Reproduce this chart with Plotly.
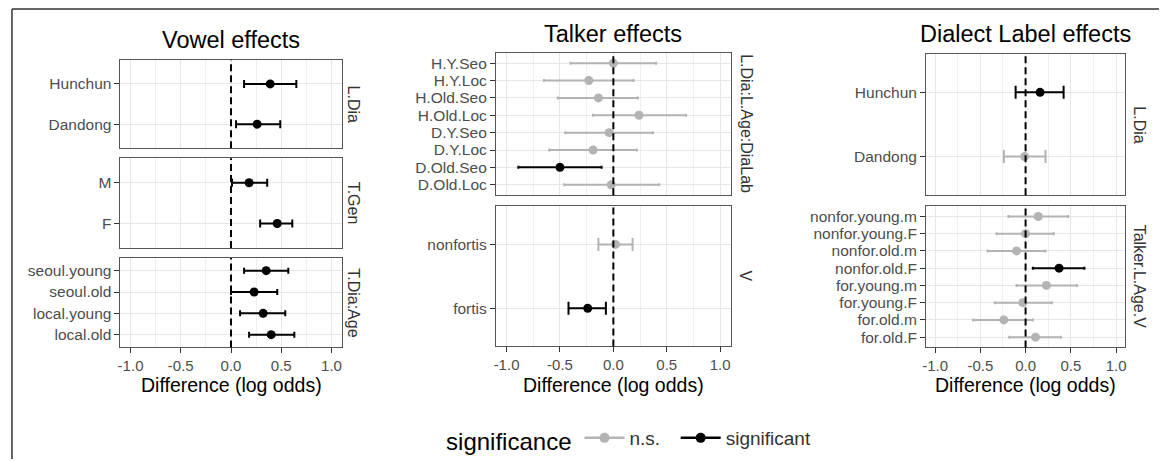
import plotly.graph_objects as go

# ---------------- data ----------------
# Vowel effects (terms listed top -> bottom within each facet)
vowel_facets = ["L.Dia", "T.Gen", "T.Dia:Age"]
vowel_terms = [["Hunchun", "Dandong"], ["M", "F"],
               ["seoul.young", "seoul.old", "local.young", "local.old"]]
vowel_est = [[0.39, 0.26], [0.18, 0.46], [0.35, 0.23, 0.32, 0.40]]
vowel_lo = [[0.13, 0.05], [0.01, 0.29], [0.13, 0.00, 0.09, 0.18]]
vowel_hi = [[0.65, 0.49], [0.36, 0.61], [0.57, 0.46, 0.54, 0.63]]
vowel_sig = [[1, 1], [1, 1], [1, 1, 1, 1]]

# Talker effects
talker_facets = ["L.Dia:L.Age:DiaLab", "V"]
talker_terms = [["H.Y.Seo", "H.Y.Loc", "H.Old.Seo", "H.Old.Loc",
                 "D.Y.Seo", "D.Y.Loc", "D.Old.Seo", "D.Old.Loc"],
                ["nonfortis", "fortis"]]
talker_est = [[0.00, -0.23, -0.14, 0.24, -0.04, -0.19, -0.50, -0.02],
              [0.02, -0.24]]
talker_lo = [[-0.40, -0.65, -0.52, -0.19, -0.45, -0.60, -0.89, -0.46],
             [-0.14, -0.42]]
talker_hi = [[0.40, 0.19, 0.23, 0.68, 0.37, 0.22, -0.11, 0.43],
             [0.18, -0.07]]
talker_sig = [[0, 0, 0, 0, 0, 0, 1, 0], [0, 1]]

# Dialect Label effects
dialect_facets = ["L.Dia", "Talker.L.Age.V"]
dialect_terms = [["Hunchun", "Dandong"],
                 ["nonfor.young.m", "nonfor.young.F", "nonfor.old.m", "nonfor.old.F",
                  "for.young.m", "for.young.F", "for.old.m", "for.old.F"]]
dialect_est = [[0.16, -0.01],
               [0.14, 0.00, -0.10, 0.37, 0.23, -0.03, -0.24, 0.11]]
dialect_lo = [[-0.11, -0.24],
              [-0.19, -0.32, -0.42, 0.08, -0.10, -0.34, -0.58, -0.18]]
dialect_hi = [[0.42, 0.22],
              [0.47, 0.31, 0.22, 0.65, 0.57, 0.29, 0.08, 0.39]]
dialect_sig = [[1, 0], [0, 0, 0, 1, 0, 0, 0, 0]]

chart_titles = ["Vowel effects", "Talker effects", "Dialect Label effects"]
x_title = "Difference (log odds)"
x_tick_vals = [-1.0, -0.5, 0.0, 0.5, 1.0]
x_tick_text = ["-1.0", "-0.5", "0.0", "0.5", "1.0"]
x_minor_vals = [-0.75, -0.25, 0.25, 0.75]
sig_labels = ["n.s.", "significant"]
legend_title = "significance"

# ---------------- layout (pixels) ----------------
W, H = 1160, 461
GRAY = "#b3b3b3"
BLACK = "#000000"
sig_colors = [GRAY, BLACK]
FONT = "Liberation Sans, Arial, Helvetica, sans-serif"

charts = [
    dict(facets=vowel_facets, terms=vowel_terms, est=vowel_est, lo=vowel_lo, hi=vowel_hi,
         sig=vowel_sig, x=(117, 339), ys=[(60, 149), (159, 249), (259, 349)],
         strip_x=351, caps=[4, 4, 3], title_y=40),
    dict(facets=talker_facets, terms=talker_terms, est=talker_est, lo=talker_lo, hi=talker_hi,
         sig=talker_sig, x=(494, 730), ys=[(53, 196), (207, 348)],
         strip_x=745, caps=[1.5, 6.5], title_y=34),
    dict(facets=dialect_facets, terms=dialect_terms, est=dialect_est, lo=dialect_lo, hi=dialect_hi,
         sig=dialect_sig, x=(926, 1126), ys=[(54, 196), (207, 349)],
         strip_x=1140, caps=[6.5, 1.5], title_y=34),
]

fig = go.Figure()
layout = dict()
shapes = []
annotations = []

idx = 0
for ci, ch in enumerate(charts):
    x0, x1 = ch["x"]
    nf = len(ch["facets"])
    for fi in range(nf):
        idx += 1
        xa = "x" if idx == 1 else f"x{idx}"
        ya = "y" if idx == 1 else f"y{idx}"
        xkey = "xaxis" if idx == 1 else f"xaxis{idx}"
        ykey = "yaxis" if idx == 1 else f"yaxis{idx}"
        terms = ch["terms"][fi]
        est = ch["est"][fi]
        lo = ch["lo"][fi]
        hi = ch["hi"][fi]
        sig = ch["sig"][fi]
        bottom = fi == nf - 1
        yt, yb = ch["ys"][fi]

        for s in (0, 1):
            sel = [k for k in range(len(terms)) if sig[k] == s]
            if not sel:
                continue
            fig.add_trace(go.Scatter(
                x=[est[k] for k in sel],
                y=[terms[k] for k in sel],
                mode="markers",
                marker=dict(color=sig_colors[s], size=9),
                error_x=dict(type="data", symmetric=False,
                             array=[hi[k] - est[k] for k in sel],
                             arrayminus=[est[k] - lo[k] for k in sel],
                             color=sig_colors[s], thickness=2, width=ch["caps"][fi]),
                xaxis=xa, yaxis=ya, showlegend=False, hoverinfo="skip"))

        layout[xkey] = dict(
            domain=[x0 / W, x1 / W], anchor=ya, range=[-1.1, 1.1],
            tickmode="array", tickvals=x_tick_vals, ticktext=x_tick_text,
            showgrid=True, gridcolor="#e6e6e6", gridwidth=1,
            minor=dict(tickvals=x_minor_vals, showgrid=True, gridcolor="#efefef", gridwidth=0.8),
            showline=True, mirror=True, linecolor="#555555", linewidth=1,
            zeroline=False, ticks="outside" if bottom else "", ticklen=5, tickcolor="#333333",
            showticklabels=bottom, tickfont=dict(size=15, color="#4d4d4d", family=FONT),
            fixedrange=True)
        layout[ykey] = dict(
            domain=[1 - yb / H, 1 - yt / H], anchor=xa, type="category",
            categoryorder="array", categoryarray=list(reversed(terms)),
            tickmode="array", tickvals=list(terms), ticktext=list(terms),
            range=[-0.6, len(terms) - 0.4],
            showgrid=True, gridcolor="#e6e6e6", gridwidth=1,
            showline=True, mirror=True, linecolor="#555555", linewidth=1,
            zeroline=False, ticks="outside", ticklen=5, tickcolor="#333333",
            tickfont=dict(size=15.5, color="#4d4d4d", family=FONT), fixedrange=True)

        shapes.append(dict(type="line", xref=xa, yref=f"{ya} domain", x0=0, x1=0, y0=0, y1=1,
                           line=dict(color="black", width=2, dash="7px,4px")))
        annotations.append(dict(text=ch["facets"][fi], xref="paper", yref="paper",
                                x=ch["strip_x"] / W, y=1 - (yt + yb) / 2 / H,
                                xanchor="center", yanchor="middle", textangle=90,
                                showarrow=False, font=dict(size=16, color="#333333", family=FONT)))
    annotations.append(dict(text=chart_titles[ci], xref="paper", yref="paper",
                            x=(x0 + x1) / 2 / W, y=1 - ch["title_y"] / H,
                            xanchor="center", yanchor="middle", showarrow=False,
                            font=dict(size=23.5, color="black", family=FONT)))
    annotations.append(dict(text=x_title, xref="paper", yref="paper",
                            x=(x0 + x1) / 2 / W, y=1 - 387 / H,
                            xanchor="center", yanchor="middle", showarrow=False,
                            font=dict(size=19.5, color="black", family=FONT)))

# legend entries (trailing non-breaking spaces only widen the gap between entries)
legend_pad = ["\u00a0\u00a0", ""]
for s in (0, 1):
    fig.add_trace(go.Scatter(x=[None], y=[None], mode="lines+markers",
                             name=sig_labels[s] + legend_pad[s],
                             line=dict(color=sig_colors[s], width=2.5),
                             marker=dict(color=sig_colors[s], size=10),
                             xaxis="x", yaxis="y", showlegend=True))

# outer frame (top and left edges)
shapes.append(dict(type="line", xref="paper", yref="paper", x0=8 / W, x1=1, y0=1 - 9 / H, y1=1 - 9 / H,
                   line=dict(color="#333333", width=1.5)))
shapes.append(dict(type="line", xref="paper", yref="paper", x0=8 / W, x1=8 / W, y0=0, y1=1 - 9 / H,
                   line=dict(color="#333333", width=1.5)))

fig.update_layout(
    width=W, height=H, margin=dict(l=0, r=0, t=0, b=0, pad=0),
    paper_bgcolor="white", plot_bgcolor="white",
    font=dict(family=FONT),
    shapes=shapes, annotations=annotations,
    legend=dict(orientation="h", x=442 / W, xanchor="left", y=1 - 442 / H, yanchor="middle",
                title=dict(text=legend_title, font=dict(size=24, color="black", family=FONT), side="left"),
                font=dict(size=19, color="#333333", family=FONT), itemwidth=40,
                bgcolor="rgba(0,0,0,0)"),
    **layout)

fig.write_html("out.html")
